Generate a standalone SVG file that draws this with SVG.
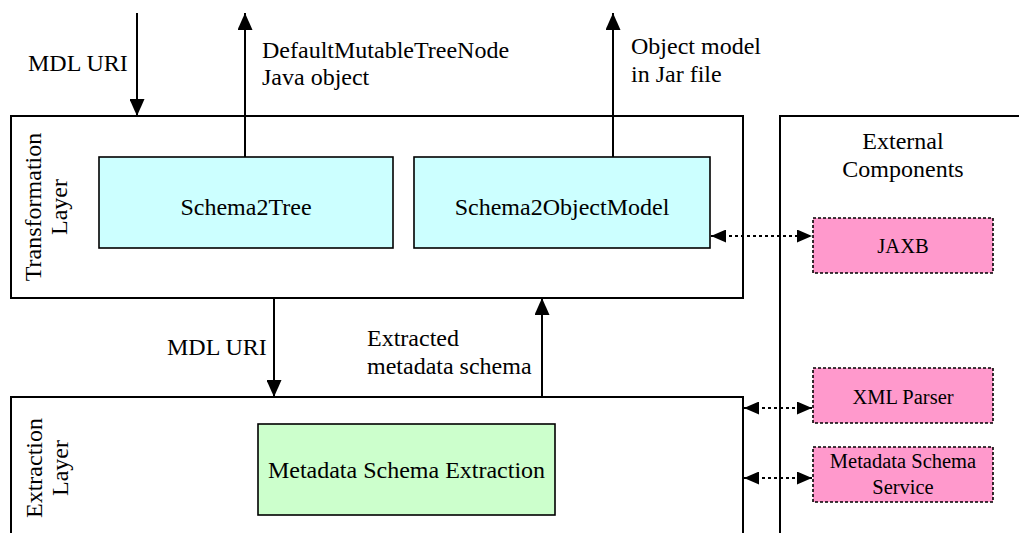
<svg xmlns="http://www.w3.org/2000/svg" width="1019" height="533" viewBox="0 0 1019 533" font-family="'Liberation Serif', 'Times New Roman', 'DejaVu Serif', serif">
  <defs>
    <!-- solid arrowhead for data flows -->
    <marker id="head" viewBox="0 0 17 15" refX="17" refY="7.5" markerWidth="17" markerHeight="15" markerUnits="userSpaceOnUse" orient="auto-start-reverse">
      <path d="M0,0 L17,7.5 L0,15 z" fill="#000"/>
    </marker>
    <!-- smaller arrowhead for dotted component links -->
    <marker id="dhead" viewBox="0 0 15 13" refX="15" refY="6.5" markerWidth="15" markerHeight="13" markerUnits="userSpaceOnUse" orient="auto-start-reverse">
      <path d="M0,0 L15,6.5 L0,13 z" fill="#000"/>
    </marker>
  </defs>
  <style>
    text { font-family: 'Liberation Serif', 'Times New Roman', 'DejaVu Serif', serif; fill: #000; }
    .lbl { font-size: 24px; }
    .sm { font-size: 20.5px; }
    .mid { text-anchor: middle; }
    .layer { fill: #fff; stroke: #000; stroke-width: 2; }
    .proc { fill: #ccffff; stroke: #000; stroke-width: 1.6; }
    .extr { fill: #ccffcc; stroke: #000; stroke-width: 1.6; }
    .comp { fill: #ff99cc; stroke: #000; stroke-width: 1.6; stroke-dasharray: 3 2; }
    .flow { fill: none; stroke: #000; stroke-width: 2; marker-end: url(#head); }
    .link { fill: none; stroke: #000; stroke-width: 2; stroke-dasharray: 3 3; marker-start: url(#dhead); marker-end: url(#dhead); }
  </style>

  <rect width="1019" height="533" fill="#fff"/>

  <!-- layers -->
  <g id="transformation-layer">
    <rect class="layer" x="11" y="116" width="732" height="182"/>
    <text class="lbl mid" transform="translate(41,207) rotate(-90)">Transformation</text>
    <text class="lbl mid" transform="translate(67,207) rotate(-90)">Layer</text>
  </g>
  <g id="extraction-layer">
    <rect class="layer" x="11" y="397" width="732" height="160"/>
    <text class="lbl mid" transform="translate(42,468) rotate(-90)">Extraction</text>
    <text class="lbl mid" transform="translate(68,468) rotate(-90)">Layer</text>
  </g>
  <g id="external-components">
    <rect class="layer" x="780" y="116" width="260" height="440"/>
    <text class="lbl mid" x="903" y="149">External</text>
    <text class="lbl mid" x="903" y="177">Components</text>
  </g>

  <!-- processing modules -->
  <g id="schema2tree">
    <rect class="proc" x="99" y="157" width="294" height="91"/>
    <text class="lbl mid" x="246" y="215">Schema2Tree</text>
  </g>
  <g id="schema2objectmodel">
    <rect class="proc" x="414" y="157" width="296" height="91"/>
    <text class="lbl mid" x="562" y="215">Schema2ObjectModel</text>
  </g>
  <g id="metadata-schema-extraction">
    <rect class="extr" x="258" y="424" width="297" height="91"/>
    <text class="lbl mid" x="406.5" y="478">Metadata Schema Extraction</text>
  </g>

  <!-- external components -->
  <g id="jaxb">
    <rect class="comp" x="813" y="218" width="180" height="55"/>
    <text class="sm mid" x="903" y="253">JAXB</text>
  </g>
  <g id="xml-parser">
    <rect class="comp" x="813" y="368" width="180" height="55"/>
    <text class="sm mid" x="903" y="404">XML Parser</text>
  </g>
  <g id="metadata-schema-service">
    <rect class="comp" x="813" y="447" width="180" height="55"/>
    <text class="sm mid" x="903" y="468">Metadata Schema</text>
    <text class="sm mid" x="903" y="494">Service</text>
  </g>

  <!-- connectors -->
  <g id="connectors">
    <line class="flow" x1="137" y1="13" x2="137" y2="116"/>
    <line class="flow" x1="245" y1="157" x2="245" y2="13"/>
    <line class="flow" x1="613" y1="157" x2="613" y2="13"/>
    <line class="flow" x1="274" y1="298" x2="274" y2="397"/>
    <line class="flow" x1="542" y1="397" x2="542" y2="298"/>
    <line class="link" x1="711" y1="236" x2="812" y2="236"/>
    <line class="link" x1="744" y1="408" x2="812" y2="408"/>
    <line class="link" x1="744" y1="478" x2="812" y2="478"/>
  </g>

  <!-- connector labels -->
  <g id="labels">
    <text class="lbl" x="28" y="71">MDL URI</text>
    <text class="lbl" x="262" y="58">DefaultMutableTreeNode</text>
    <text class="lbl" x="262" y="85">Java object</text>
    <text class="lbl" x="631" y="54">Object model</text>
    <text class="lbl" x="631" y="82">in Jar file</text>
    <text class="lbl" x="167" y="355">MDL URI</text>
    <text class="lbl" x="367" y="346">Extracted</text>
    <text class="lbl" x="367" y="374">metadata schema</text>
  </g>
</svg>
